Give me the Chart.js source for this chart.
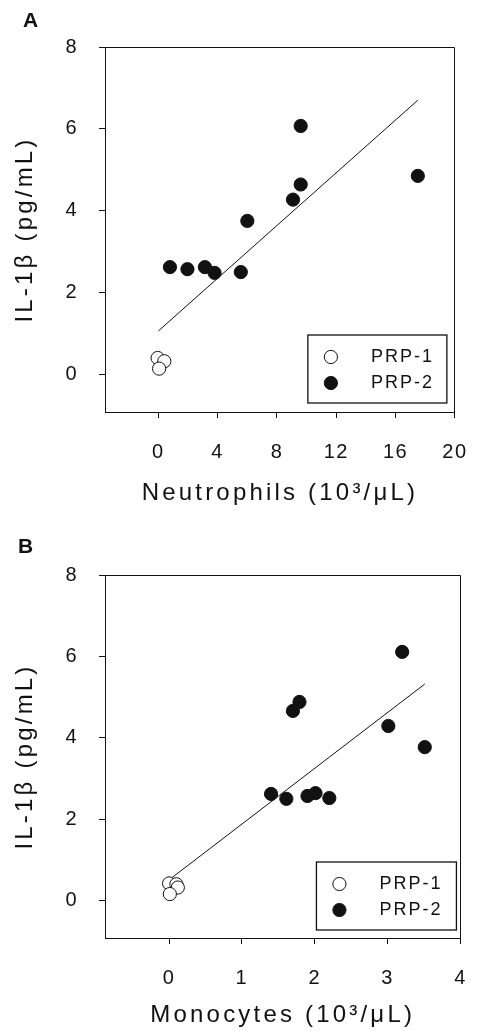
<!DOCTYPE html>
<html>
<head>
<meta charset="utf-8">
<script src="https://cdn.jsdelivr.net/npm/chart.js@4.4.1/dist/chart.umd.min.js"></script>
<style>
  html, body { margin: 0; padding: 0; background: #fff; }
  body { width: 488px; height: 1031px; position: relative; overflow: hidden; font-family: "Liberation Sans", Arial, sans-serif; }
  canvas { position: absolute; left: 0; }
  .tag { position: absolute; font-weight: bold; font-size: 21px; line-height: 21px; color: #111; }
</style>
</head>
<body>
<canvas id="chartA" width="488" height="515" style="top:0"></canvas>
<canvas id="chartB" width="488" height="503" style="top:528px"></canvas>
<div class="tag" style="left:23px;top:9px">A</div>
<div class="tag" style="left:18px;top:535px">B</div>
<script>
// panel A - neutrophils
const neutroPrp1 = [-0.05, 0.4, 0.05];
const il1bNeutroPrp1 = [0.4, 0.32, 0.14];
const neutroPrp2 = [0.78, 1.96, 3.14, 3.79, 5.56, 6.0, 9.08, 9.6, 9.6, 17.5];
const il1bNeutroPrp2 = [2.62, 2.57, 2.62, 2.48, 2.5, 3.75, 4.27, 4.64, 6.07, 4.85];
const neutroFitX = [0, 17.5];
const neutroFitY = [1.06, 6.7];
const neutroTicks = [0, 4, 8, 12, 16, 20];

// panel B - monocytes
const monoPrp1 = [0, 0.1, 0.12, 0.01];
const il1bMonoPrp1 = [0.42, 0.4, 0.32, 0.16];
const monoPrp2 = [1.4, 1.61, 1.9, 2.01, 2.2, 1.7, 1.79, 3.01, 3.2, 3.51];
const il1bMonoPrp2 = [2.62, 2.5, 2.57, 2.64, 2.52, 4.66, 4.88, 4.29, 6.11, 3.77];
const monoFitX = [0.03, 3.51];
const monoFitY = [0.55, 5.32];
const monoTicks = [0, 1, 2, 3, 4];

const yTicks = [0, 2, 4, 6, 8];
const groupLabels = ['PRP-1', 'PRP-2'];

Chart.defaults.font.family = '"Liberation Sans", Arial, sans-serif';
Chart.defaults.color = '#111';

const pts = (xs, ys) => xs.map((x, i) => ({ x: x, y: ys[i] }));

// titles get wider letter spacing than tick labels (tick labels drawn after datasets, z:1)
const spacing = {
  id: 'spacing',
  beforeDraw(chart) { chart.ctx.letterSpacing = '3.2px'; },
  beforeDatasetsDraw(chart) { chart.ctx.letterSpacing = '1.5px'; }
};

const px = v => Math.round(v - 0.5) + 0.5;

// top/right box lines and the boxed legend inside the plot
const frame = {
  id: 'frame',
  afterDraw(chart, args, opts) {
    const { ctx, chartArea: a } = chart;
    ctx.save();
    ctx.strokeStyle = '#111';
    ctx.lineWidth = 1;
    ctx.beginPath();
    ctx.moveTo(px(a.left), px(a.top));
    ctx.lineTo(px(a.right), px(a.top));
    ctx.lineTo(px(a.right), px(a.bottom));
    ctx.stroke();

    const x0 = a.right - opts.right - opts.width;
    const y0 = a.bottom - opts.bottom - opts.height;
    ctx.lineWidth = 1.3;
    ctx.strokeRect(x0, y0, opts.width, opts.height);
    ctx.font = '18px "Liberation Sans", Arial, sans-serif';
    ctx.letterSpacing = '2px';
    ctx.textBaseline = 'middle';
    ctx.textAlign = 'left';
    chart.data.datasets.filter(d => d.label).forEach((ds, i) => {
      const cy = y0 + 22 + i * 26;
      ctx.beginPath();
      ctx.arc(x0 + 23, cy, 6.6, 0, Math.PI * 2);
      ctx.fillStyle = ds.backgroundColor;
      ctx.fill();
      ctx.lineWidth = 1;
      ctx.strokeStyle = ds.borderColor;
      ctx.stroke();
      ctx.fillStyle = '#111';
      ctx.fillText(ds.label, x0 + 63, cy);
    });
    ctx.restore();
  }
};

function makePanel(id, o) {
  return new Chart(document.getElementById(id), {
    type: 'scatter',
    data: {
      datasets: [
        { label: groupLabels[0], data: pts(o.x1, o.y1), backgroundColor: '#fff', borderColor: '#111', borderWidth: 1, pointRadius: 6.6 },
        { label: groupLabels[1], data: pts(o.x2, o.y2), backgroundColor: '#111', borderColor: '#111', borderWidth: 1, pointRadius: 6.6 },
        { label: '', data: pts(o.fitX, o.fitY), showLine: true, borderColor: '#111', borderWidth: 1, pointRadius: 0 }
      ]
    },
    options: {
      responsive: false,
      animation: false,
      layout: { padding: { left: 0, right: 22, top: 47, bottom: 0 } },
      plugins: {
        legend: { display: false },
        tooltip: { enabled: false },
        frame: o.legendBox
      },
      scales: {
        x: {
          type: 'linear', min: o.xMin, max: o.xMax,
          afterBuildTicks: s => { s.ticks = o.xTicks.map(v => ({ value: v })); },
          afterFit: s => { s.height = o.xHeight; },
          grid: { drawOnChartArea: false, tickLength: 6, color: '#111' },
          border: { color: '#111', width: 1 },
          ticks: { font: { size: 20 }, color: '#111', padding: 22, maxRotation: 0, autoSkip: false, z: 1 },
          title: { display: true, text: o.xTitle, font: { size: 24 }, color: '#111', padding: { top: 0, bottom: o.xTitlePad } }
        },
        y: {
          min: -0.92, max: 8,
          afterBuildTicks: s => { s.ticks = yTicks.map(v => ({ value: v })); },
          afterFit: s => { s.width = 105; },
          grid: { drawOnChartArea: false, tickLength: 6, color: '#111' },
          border: { color: '#111', width: 1 },
          ticks: { font: { size: 20 }, color: '#111', padding: 21, z: 1 },
          title: { display: true, text: 'IL-1β (pg/mL)', font: { size: 24 }, color: '#111', padding: { top: 10.5, bottom: 0 } }
        }
      }
    },
    plugins: [spacing, frame]
  });
}

makePanel('chartA', {
  x1: neutroPrp1, y1: il1bNeutroPrp1, x2: neutroPrp2, y2: il1bNeutroPrp2,
  fitX: neutroFitX, fitY: neutroFitY,
  xMin: -3.6, xMax: 20, xTicks: neutroTicks,
  xTitle: 'Neutrophils (10³/μL)', xHeight: 103, xTitlePad: 7,
  legendBox: { right: 8, bottom: 9, width: 139, height: 68 }
});

makePanel('chartB', {
  x1: monoPrp1, y1: il1bMonoPrp1, x2: monoPrp2, y2: il1bMonoPrp2,
  fitX: monoFitX, fitY: monoFitY,
  xMin: -0.88, xMax: 4, xTicks: monoTicks,
  xTitle: 'Monocytes (10³/μL)', xHeight: 93, xTitlePad: 1,
  legendBox: { right: 4, bottom: 8, width: 140, height: 68 }
});
</script>
</body>
</html>
